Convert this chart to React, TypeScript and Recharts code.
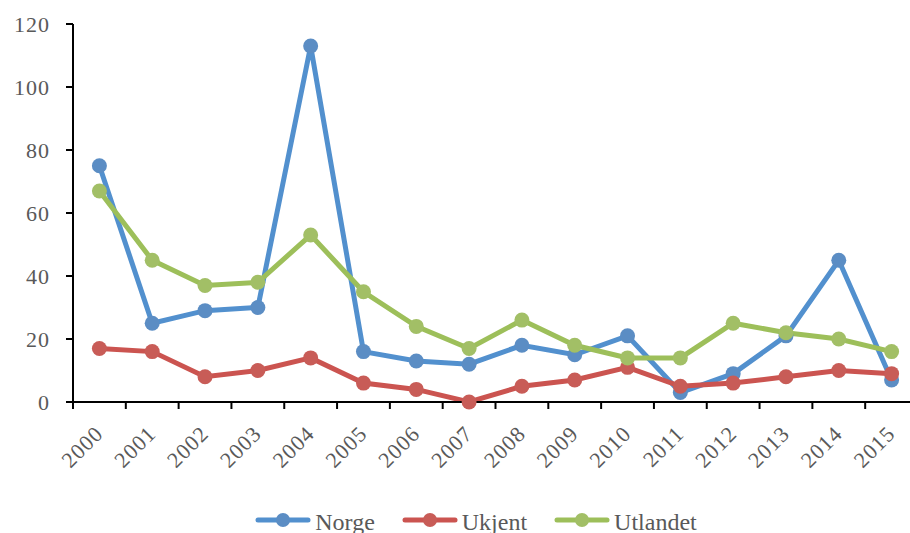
import React from 'react';
import { LineChart, Line, XAxis, YAxis, Legend } from 'recharts';

// Yearly counts by origin, 2000–2015
const years = ['2000', '2001', '2002', '2003', '2004', '2005', '2006', '2007', '2008', '2009', '2010', '2011', '2012', '2013', '2014', '2015'];
const norge = [75, 25, 29, 30, 113, 16, 13, 12, 18, 15, 21, 3, 9, 21, 45, 7];
const ukjent = [17, 16, 8, 10, 14, 6, 4, 0, 5, 7, 11, 5, 6, 8, 10, 9];
const utlandet = [67, 45, 37, 38, 53, 35, 24, 17, 26, 18, 14, 14, 25, 22, 20, 16];
const yTicks = [0, 20, 40, 60, 80, 100, 120];

const series = [
  { key: 'Norge', line: '#5290ce', dot: '#5b8dc4' },
  { key: 'Ukjent', line: '#cb5450', dot: '#c85c57' },
  { key: 'Utlandet', line: '#9dbf5a', dot: '#a2bf66' },
];

const data = years.map((year, i) => ({
  idx: i,
  year,
  Norge: norge[i],
  Ukjent: ukjent[i],
  Utlandet: utlandet[i],
}));

// Category centres carry the year labels; the half steps carry the tick marks
const xTicks: number[] = [];
for (let i = -1; i < years.length; i++) {
  xTicks.push(i + 0.5);
  if (i + 1 < years.length) xTicks.push(i + 1);
}

const FONT = '"Liberation Serif", "DejaVu Serif", serif';
const TEXT = '#595959';

const XTick = (props: any) => {
  const { x, y, payload } = props;
  const v = payload.value as number;
  if (Number.isInteger(v)) {
    const tx = x + 5;
    const ty = y + 33;
    return (
      <text
        x={tx}
        y={ty}
        textAnchor="end"
        transform={`rotate(-45, ${tx}, ${ty})`}
        fontFamily={FONT}
        fontSize={22}
        letterSpacing={1}
        fill={TEXT}
      >
        {years[v]}
      </text>
    );
  }
  return <line x1={x} y1={y} x2={x} y2={y + 7} stroke="#000" strokeWidth={2} />;
};

const LegendContent = () => (
  <div
    style={{
      display: 'flex',
      justifyContent: 'center',
      alignItems: 'flex-start',
      height: 24,
      fontFamily: FONT,
      fontSize: 24,
      lineHeight: '24px',
      color: TEXT,
    }}
  >
    {series.map((s, i) => (
      <div key={s.key} style={{ display: 'flex', alignItems: 'flex-start', marginRight: i < series.length - 1 ? 27 : 0 }}>
        <svg width={56} height={24} style={{ marginRight: 4, display: 'block' }}>
          <line x1={3} y1={10} x2={53} y2={10} stroke={s.line} strokeWidth={5} strokeLinecap="round" />
          <circle cx={28} cy={10} r={7} fill={s.dot} />
        </svg>
        <span>{s.key}</span>
      </div>
    ))}
  </div>
);

export default function App() {
  return (
    <div style={{ position: 'fixed', left: 0, top: 0, width: 910, height: 533, overflow: 'hidden', background: '#fff' }}>
      <LineChart width={940} height={534} data={data} margin={{ top: 24, right: 22, left: 0, bottom: 0 }}>
        <XAxis
          dataKey="idx"
          type="number"
          domain={[-0.5, 15.5]}
          ticks={xTicks}
          interval={0}
          tickSize={0}
          tickMargin={0}
          tickLine={false}
          tick={<XTick />}
          axisLine={{ stroke: '#000', strokeWidth: 2 }}
          height={108}
        />
        <YAxis
          domain={[0, 120]}
          ticks={yTicks}
          interval={0}
          width={73}
          tickSize={7}
          tickMargin={16}
          tickLine={{ stroke: '#000', strokeWidth: 2 }}
          axisLine={{ stroke: '#000', strokeWidth: 2 }}
          tick={{ fontFamily: FONT, fontSize: 22, fill: TEXT, letterSpacing: 1 }}
        />
        <Legend
          verticalAlign="bottom"
          content={<LegendContent />}
          wrapperStyle={{ left: 0, width: 952, height: 24 }}
        />
        {series.map((s) => (
          <Line
            key={s.key}
            dataKey={s.key}
            type="linear"
            stroke={s.line}
            strokeWidth={5}
            dot={{ r: 7.5, fill: s.dot, stroke: s.dot, strokeWidth: 0 }}
            activeDot={false}
            isAnimationActive={false}
          />
        ))}
      </LineChart>
    </div>
  );
}
